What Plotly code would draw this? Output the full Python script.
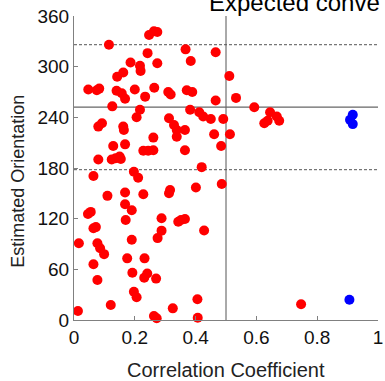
import plotly.graph_objects as go

# red points: correlation coefficient vs estimated orientation
red_corr = [0.047, 0.075, 0.083, 0.115, 0.126, 0.140, 0.157, 0.168, 0.142, 0.162,
            0.186, 0.217, 0.219, 0.200, 0.234, 0.217, 0.206, 0.242, 0.247, 0.263,
            0.274, 0.274, 0.264, 0.310, 0.318, 0.367, 0.384, 0.371, 0.389, 0.382,
            0.412, 0.425, 0.450, 0.466, 0.466, 0.491, 0.511, 0.533, 0.593, 0.645,
            0.667, 0.675, 0.626, 0.637, 0.3125, 0.329,
            0.080, 0.092, 0.162, 0.164, 0.338, 0.338, 0.365, 0.461, 0.513, 0.484,
            0.365, 0.261, 0.228, 0.244, 0.261, 0.168, 0.129, 0.080, 0.124, 0.137,
            0.150, 0.154, 0.197, 0.211, 0.064, 0.420,
            0.486, 0.401, 0.316, 0.3125, 0.228, 0.168, 0.110, 0.168, 0.190, 0.170,
            0.046, 0.055, 0.064, 0.072, 0.288, 0.343, 0.352, 0.365, 0.288, 0.428,
            0.275, 0.190, 0.016, 0.077, 0.086, 0.099, 0.064, 0.077, 0.175, 0.232,
            0.192, 0.231, 0.241, 0.270, 0.197, 0.206, 0.013, 0.121, 0.263, 0.272,
            0.325, 0.406, 0.407, 0.747]
red_orient = [273, 272, 274, 326, 253, 271.5, 268.5, 262, 288, 293,
              305, 301, 295, 273, 264.5, 249, 240, 316, 337.5, 342,
              341, 304, 275, 270, 267, 320.5, 306.7, 272, 270, 249,
              246, 241, 238, 317, 260, 238, 289, 263, 252, 246,
              241, 236, 233, 236, 239, 231,
              229, 233, 229, 225, 225, 217, 225, 220, 220, 206,
              201, 216, 200.5, 200.5, 201, 208, 206, 190, 190, 191.5,
              193.5, 190.7, 175.6, 168.5, 170.5, 181,
              161, 157, 154, 150, 149, 151, 147, 137, 130, 118.4,
              125.5, 128, 108.6, 110, 120.4, 116.4, 118.4, 119.6, 105.8, 106,
              97, 95, 90.8, 90.8, 85, 78, 66, 47.4, 73, 73,
              56, 50, 55, 49, 33.5, 27, 10.7, 17.8, 4.7, 2,
              13.8, 24.5, 2.7, 18.6]

# blue points
blue_corr = [0.917, 0.908, 0.917, 0.906]
blue_orient = [243, 237, 232, 24]

# reference values
corr_threshold = 0.5
expected_orient = 252
orient_band = 74

x_ticks = [0, 0.2, 0.4, 0.6, 0.8, 1]
x_ticklabels = ["0", "0.2", "0.4", "0.6", "0.8", "1"]
y_ticks = [0, 60, 120, 180, 240, 300, 360]

FONT = "Arial, Liberation Sans, sans-serif"

fig = go.Figure()
fig.add_trace(go.Scatter(x=red_corr, y=red_orient, mode="markers", cliponaxis=False,
                         marker=dict(color="#ff0000", size=10), hoverinfo="skip"))
fig.add_trace(go.Scatter(x=blue_corr, y=blue_orient, mode="markers", cliponaxis=False,
                         marker=dict(color="#0000ff", size=10), hoverinfo="skip"))

# reference lines
fig.add_shape(type="line", x0=corr_threshold, x1=corr_threshold, y0=0, y1=360,
              line=dict(color="#555555", width=1), layer="below")
fig.add_shape(type="line", x0=0, x1=1, y0=expected_orient, y1=expected_orient,
              line=dict(color="#666666", width=1.3), layer="below")
for yv in [expected_orient + orient_band, expected_orient - orient_band]:
    fig.add_shape(type="line", x0=0, x1=1, y0=yv, y1=yv,
                  line=dict(color="#555555", width=1, dash="3px,2px"), layer="below")

# title, cut off at the top and right edge like the reference
fig.add_annotation(text="Expected conve", x=0.4375, y=1.046, xref="paper", yref="paper",
                   xanchor="left", yanchor="middle", showarrow=False,
                   font=dict(family=FONT, size=24, color="#000000"))
fig.add_annotation(text="Correlation Coefficient", x=0.5, y=-0.165, xref="paper", yref="paper",
                   xanchor="center", yanchor="middle", showarrow=False,
                   font=dict(family=FONT, size=20, color="#222222"))
fig.add_annotation(text="Estimated Orientation", x=-0.185, y=0.457, xref="paper", yref="paper",
                   xanchor="center", yanchor="middle", showarrow=False, textangle=-90,
                   font=dict(family=FONT, size=18, color="#222222"))

fig.update_layout(
    width=385, height=381,
    margin=dict(l=74, r=7, t=16, b=61, autoexpand=False),
    paper_bgcolor="white", plot_bgcolor="white",
    showlegend=False,
    font=dict(family=FONT, size=19, color="#111111"),
    xaxis=dict(range=[0, 1], tickvals=x_ticks, ticktext=x_ticklabels, automargin=False,
               showline=True, linecolor="#808080", linewidth=1.2,
               ticks="inside", ticklen=4, tickcolor="#808080",
               showgrid=False, zeroline=False, fixedrange=True),
    yaxis=dict(range=[0, 360], tickvals=y_ticks, automargin=False,
               showline=True, linecolor="#808080", linewidth=1.2,
               ticks="inside", ticklen=4, tickcolor="#808080",
               showgrid=False, zeroline=False, fixedrange=True),
)

# drop the default body margin so the figure sits at the window corner
fig.write_html("out.html", config={"displayModeBar": False},
               post_script="document.body.style.margin='0';")
